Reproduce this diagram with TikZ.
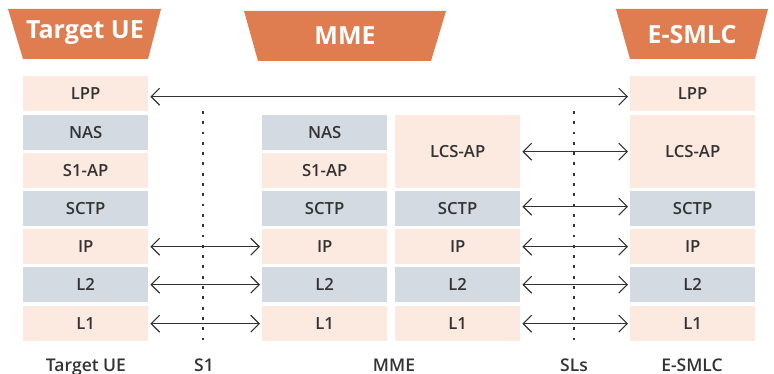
\documentclass[tikz,border=0pt]{standalone}
\usepackage{fontspec}
\setmainfont{Open Sans}
\IfFontExistsTF{Open Sans SemiBold}
  {\newfontfamily\semib{Open Sans SemiBold}}
  {\IfFontExistsTF{Open Sans Semibold}
    {\newfontfamily\semib{Open Sans Semibold}}
    {\IfFontExistsTF{OpenSans-Semibold}
      {\newfontfamily\semib{OpenSans-Semibold}}
      {\newcommand\semib{\bfseries}}}}
\usetikzlibrary{arrows.meta}
\definecolor{hdr}{HTML}{E07D50}
\definecolor{pinkbg}{HTML}{FCE9E0}
\definecolor{greybg}{HTML}{D4DAE2}
\definecolor{ink}{HTML}{333333}
\begin{document}
\begin{tikzpicture}[x=1pt,y=-1pt,
  layer/.style={anchor=north west, minimum width=125pt, minimum height=35pt,
    inner sep=0pt, text=ink, font=\semib\fontsize{16.7}{16.7}\selectfont},
  pinkbox/.style={layer, fill=pinkbg},
  greybox/.style={layer, fill=greybg},
  tallbox/.style={pinkbox, minimum height=73pt},
  hdrtext/.style={anchor=base, text=white, font=\bfseries\fontsize{25}{25}\selectfont},
  caption/.style={anchor=base, text=ink, font=\semib\fontsize{17.5}{17.5}\selectfont},
  link/.style={draw=ink, line width=1.1pt, shorten <=2pt, shorten >=2pt,
    {Straight Barb[length=8.5pt,width=17pt]}-{Straight Barb[length=8.5pt,width=17pt]}},
  refpoint/.style={draw=ink, line width=2.8pt, dash pattern=on 2.8pt off 7.5pt}]
\useasboundingbox (0,0) rectangle (774,374);

% header banners
\fill[hdr] (8,9) -- (161,9) -- (148,59) -- (23,59) -- cycle;
\node[hdrtext] (hue) at (85,39) {Target UE};
\fill[hdr] (244,11) -- (446,11) -- (431,61) -- (258,61) -- cycle;
\node[hdrtext] (hmme) at (345,45) {MME};
\fill[hdr] (616,9) -- (768,9) -- (755,59) -- (630,59) -- cycle;
\node[hdrtext] (hsmlc) at (692,44) {E-SMLC};

% Target UE stack
\node[pinkbox] (ue-lpp)  at (23,76)  {LPP};
\node[greybox] (ue-nas)  at (23,115) {NAS};
\node[pinkbox] (ue-s1ap) at (23,153) {S1-AP};
\node[greybox] (ue-sctp) at (23,191) {SCTP};
\node[pinkbox] (ue-ip)   at (23,229) {IP};
\node[greybox] (ue-l2)   at (23,267) {L2};
\node[pinkbox] (ue-l1)   at (23,306) {L1};

% MME, S1 side
\node[greybox] (ma-nas)  at (262,115) {NAS};
\node[pinkbox] (ma-s1ap) at (262,153) {S1-AP};
\node[greybox] (ma-sctp) at (262,191) {SCTP};
\node[pinkbox] (ma-ip)   at (262,229) {IP};
\node[greybox] (ma-l2)   at (262,267) {L2};
\node[pinkbox] (ma-l1)   at (262,306) {L1};

% MME, SLs side
\node[tallbox] (mb-lcs)  at (395,115) {LCS-AP};
\node[greybox] (mb-sctp) at (395,191) {SCTP};
\node[pinkbox] (mb-ip)   at (395,229) {IP};
\node[greybox] (mb-l2)   at (395,267) {L2};
\node[pinkbox] (mb-l1)   at (395,306) {L1};

% E-SMLC stack
\node[pinkbox] (es-lpp)  at (630,76)  {LPP};
\node[tallbox] (es-lcs)  at (630,115) {LCS-AP};
\node[greybox] (es-sctp) at (630,191) {SCTP};
\node[pinkbox] (es-ip)   at (630,229) {IP};
\node[greybox] (es-l2)   at (630,267) {L2};
\node[pinkbox] (es-l1)   at (630,306) {L1};

% reference points
\coordinate (s1top) at (203,111);
\coordinate (s1bot) at (203,340);
\coordinate (slstop) at (574,111);
\coordinate (slsbot) at (574,340);
\draw[refpoint] (s1top) -- (s1bot);
\draw[refpoint] (slstop) -- (slsbot);

% peer links
\draw[link] ([yshift=-3pt]ue-lpp.east) -- ([yshift=-3pt]es-lpp.west);
\draw[link] (ue-ip.east) -- (ma-ip.west);
\draw[link] (ue-l2.east) -- (ma-l2.west);
\draw[link] (ue-l1.east) -- (ma-l1.west);
\draw[link] (mb-lcs.east) -- (es-lcs.west);
\draw[link] ([yshift=2pt]mb-sctp.east) -- ([yshift=2pt]es-sctp.west);
\draw[link] (mb-ip.east) -- (es-ip.west);
\draw[link] (mb-l2.east) -- (es-l2.west);
\draw[link] (mb-l1.east) -- (es-l1.west);

% captions
\node[caption] (cue)   at (86,371)  {Target UE};
\node[caption] (cs1)   at (204,371) {S1};
\node[caption] (cmme)  at (394,371) {MME};
\node[caption] (csls)  at (574,371) {SLs};
\node[caption] (csmlc) at (692,371) {E-SMLC};
\end{tikzpicture}
\end{document}
